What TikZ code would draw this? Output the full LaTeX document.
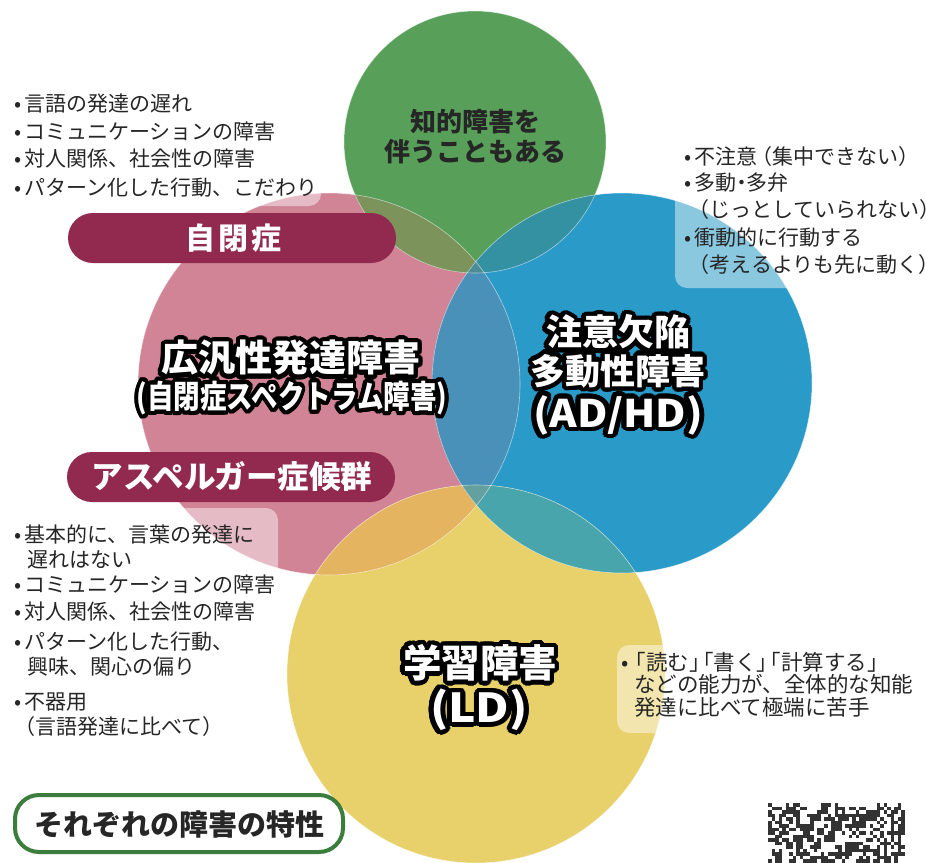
\documentclass[tikz,border=0pt]{standalone}
\usepackage{fontspec}
\setmainfont{Noto Sans CJK JP}
\newfontfamily\jphalt{Noto Sans CJK JP}[RawFeature=+halt]
\usetikzlibrary{calc}
\definecolor{cgreen}{RGB}{88,160,90}
\definecolor{cpink}{RGB}{208,132,150}
\definecolor{cblue}{RGB}{42,155,200}
\definecolor{cyellow}{RGB}{232,208,106}
\definecolor{opg}{RGB}{124,148,92}
\definecolor{ogb}{RGB}{52,145,162}
\definecolor{opb}{RGB}{74,145,185}
\definecolor{opy}{RGB}{228,180,96}
\definecolor{oby}{RGB}{72,165,172}
\definecolor{opby}{RGB}{100,160,160}
\definecolor{opgb}{RGB}{75,140,150}
\definecolor{maroon}{RGB}{146,42,79}
\definecolor{txt}{RGB}{38,38,38}
\definecolor{framegreen}{RGB}{58,125,60}
\newsavebox\obox
\newcommand\outl[1]{\setbox\obox=\hbox{#1}\foreach \ang in {0,15,...,345}{\pgfmathsetlengthmacro\dx{4.4pt*cos(\ang)}\pgfmathsetlengthmacro\dy{4.4pt*sin(\ang)}\rlap{\hspace*{\dx}\raisebox{\dy}{\color{black}\usebox\obox}}}{\color{white}\usebox\obox}}
\newcommand\bul{•\hspace{3pt}}
\tikzset{
  listtxt/.style={anchor=base west, inner sep=0pt, text=txt, font=\fontsize{21}{24}\selectfont},
  halttxt/.style={listtxt, font=\jphalt\fontsize{21}{24}\selectfont},
  bigtxt/.style={inner sep=0pt, text=white, font=\bfseries\fontsize{34}{40}\selectfont},
  band/.style={fill=maroon, rounded corners=25pt},
  bandtxt/.style={text=white, inner sep=0pt, font=\bfseries\fontsize{30}{36}\selectfont},
  softbox/.style={fill=white, fill opacity=0.45, rounded corners=12pt},
  edge/.style={draw=white, draw opacity=0.55, line width=0.6pt}
}
\begin{document}
\begin{tikzpicture}[x=1pt,y=-1pt]
\useasboundingbox (0,0) rectangle (926,862);
\fill[white] (0,0) rectangle (926,862);
% circles
\coordinate (P) at (329,384);
\coordinate (G) at (475,142);
\coordinate (B) at (622,383);
\coordinate (Y) at (476,674);
\def\rP{191pt}\def\rG{131pt}\def\rB{190pt}\def\rY{189pt}
\fill[cpink] (P) circle[radius=\rP];
\fill[cgreen] (G) circle[radius=\rG];
\fill[cblue] (B) circle[radius=\rB];
\fill[cyellow] (Y) circle[radius=\rY];
% overlaps
\begin{scope}\clip (P) circle[radius=\rP]; \fill[opg] (G) circle[radius=\rG];\end{scope}
\begin{scope}\clip (G) circle[radius=\rG]; \fill[ogb] (B) circle[radius=\rB];\end{scope}
\begin{scope}\clip (P) circle[radius=\rP]; \fill[opb] (B) circle[radius=\rB];\end{scope}
\begin{scope}\clip (P) circle[radius=\rP]; \fill[opy] (Y) circle[radius=\rY];\end{scope}
\begin{scope}\clip (B) circle[radius=\rB]; \fill[oby] (Y) circle[radius=\rY];\end{scope}
\begin{scope}\clip (P) circle[radius=\rP]; \clip (B) circle[radius=\rB]; \fill[opby] (Y) circle[radius=\rY];\end{scope}
\begin{scope}\clip (P) circle[radius=\rP]; \clip (B) circle[radius=\rB]; \fill[opgb] (G) circle[radius=\rG];\end{scope}
\draw[edge] (P) circle[radius=\rP];
\draw[edge] (G) circle[radius=\rG];
\draw[edge] (B) circle[radius=\rB];
\draw[edge] (Y) circle[radius=\rY];
% soft boxes behind lists
\fill[softbox] (4,84) rectangle (321,206);
\fill[softbox] (675,138) rectangle (950,288);
\fill[softbox] (4,508) rectangle (278,752);
\fill[softbox] (617,645) rectangle (950,733);
% bands
\fill[band] (68,213) rectangle (396,263);
\node[bandtxt] (asd) at (233,238) {自\hspace{3pt}閉\hspace{3pt}症};
\fill[band] (67,452) rectangle (395,502);
\node[bandtxt, font=\bfseries\fontsize{31.5}{36}\selectfont] (asp) at (232,477) {アスペルガー症候群};
% green circle text
\node[inner sep=0pt, text=txt, font=\bfseries\fontsize{26}{30}\selectfont] (g1) at (475,122) {知的障害を};
\node[inner sep=0pt, text=txt, font=\bfseries\fontsize{26}{30}\selectfont] (g2) at (475,152) {伴うこともある};
% big labels
\node[bigtxt, font=\bfseries\fontsize{37}{40}\selectfont] (p1) at (291,358) {\outl{広汎性発達障害}};
\node[bigtxt, font=\bfseries\fontsize{32}{40}\selectfont] (p2) at (292,398) {\scalebox{0.83}[1]{\outl{(自閉症スペクトラム障害)}}};
\node[bigtxt, font=\bfseries\fontsize{36}{40}\selectfont] (b1) at (618,332) {\outl{注意欠陥}};
\node[bigtxt, font=\bfseries\fontsize{35}{40}\selectfont] (b2) at (618,371) {\outl{多動性障害}};
\node[bigtxt, font=\bfseries\fontsize{38}{40}\selectfont] (b3) at (618,415) {\scalebox{1.1}[1]{\outl{(AD/HD)}}};
\node[bigtxt, font=\bfseries\fontsize{38.5}{40}\selectfont] (y1) at (480,663) {\outl{学習障害}};
\node[bigtxt, font=\bfseries\fontsize{40}{40}\selectfont] (y2) at (479,710) {\scalebox{1.15}[1]{\outl{(LD)}}};
% top-left list
\node[listtxt] (l1) at (14,111) {\bul 言語の発達の遅れ};
\node[listtxt] (l2) at (14,139) {\bul コミュニケーションの障害};
\node[listtxt] (l3) at (14,166) {\bul 対人関係、社会性の障害};
\node[listtxt] (l4) at (14,195) {\bul パターン化した行動、こだわり};
% ADHD list
\node[halttxt] (a1) at (684,164) {\bul 不注意\hspace{5pt}（集中できない）};
\node[halttxt] (a2) at (684,190) {\bul 多動・多弁};
\node[halttxt] (a3) at (699,217) {（じっとしていられない）};
\node[halttxt] (a4) at (684,245) {\bul 衝動的に行動する};
\node[halttxt] (a5) at (699,272) {（考えるよりも先に動く）};
% Asperger list
\node[listtxt] (s1) at (14,542) {\bul 基本的に、言葉の発達に};
\node[listtxt] (s2) at (27,567) {遅れはない};
\node[listtxt] (s3) at (14,592) {\bul コミュニケーションの障害};
\node[listtxt] (s4) at (14,619) {\bul 対人関係、社会性の障害};
\node[listtxt] (s5) at (14,649) {\bul パターン化した行動、};
\node[listtxt] (s6) at (27,674) {興味、関心の偏り};
\node[listtxt] (s7) at (14,709) {\bul 不器用};
\node[halttxt] (s8) at (25,734) {（言語発達に比べて）};
% LD list
\node[halttxt, font=\jphalt\fontsize{21.5}{24}\selectfont] (d1) at (621,670) {•\hspace{7pt}「読む」\hspace{3pt}「書く」\hspace{3pt}「計算する」};
\node[listtxt, font=\fontsize{21.5}{24}\selectfont] (d2) at (634,692) {などの能力が、全体的な知能};
\node[listtxt, font=\fontsize{21.5}{24}\selectfont] (d3) at (634,715) {発達に比べて極端に苦手};
% bottom title
\draw[draw=framegreen, fill=white, line width=4pt, rounded corners=24pt] (15,795) rectangle (343,852);
\node[inner sep=0pt, text=txt, font=\bfseries\fontsize{29}{32}\selectfont] (title) at (179,824) {それぞれの障害の特性};
% partial QR code
\pgfmathsetseed{7}
\foreach \i in {0,...,38}{\foreach \j in {0,...,16}{%
  \pgfmathrandominteger{\rv}{0}{1}%
  \ifnum\rv=1 \fill[black!80] (768+\i*3.5,803+\j*3.5) rectangle ++(3.5,3.5);\fi}}
\end{tikzpicture}
\end{document}
